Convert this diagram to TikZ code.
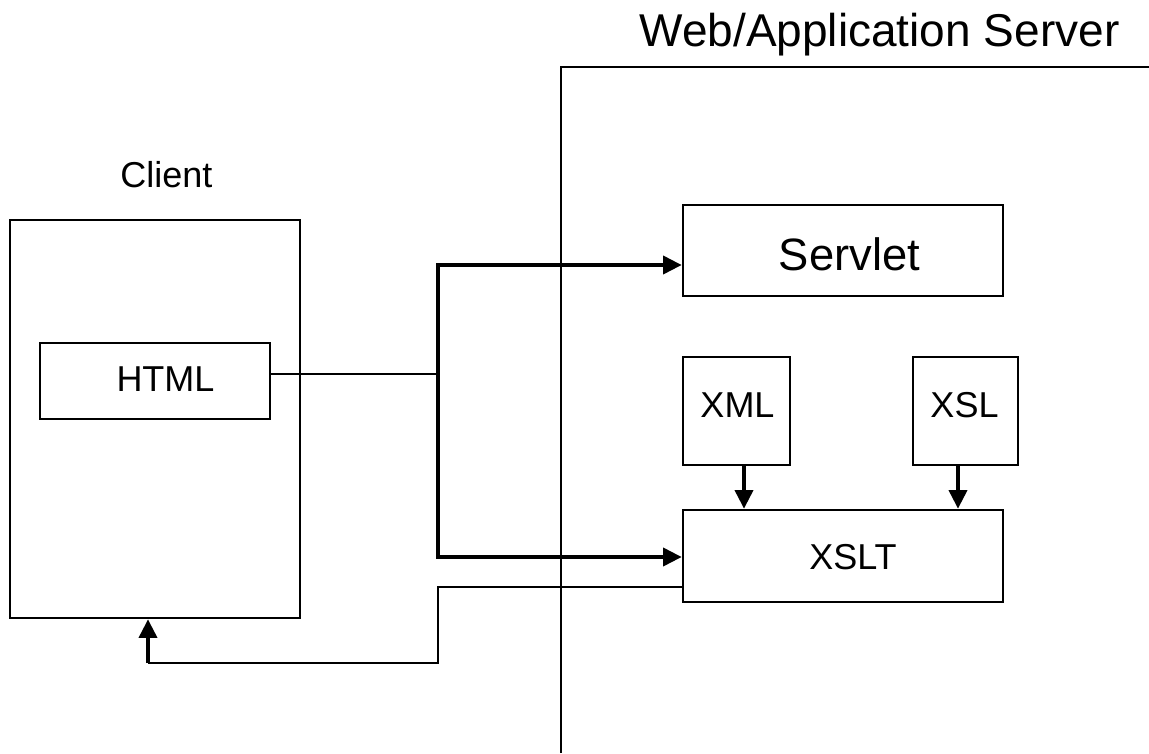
\documentclass[tikz,border=0pt]{standalone}
\usepackage{fontspec}
\setmainfont{Liberation Sans}
\usetikzlibrary{arrows.meta,fit}
\begin{document}
\begin{tikzpicture}[x=0.75pt,y=-0.75pt,
  box/.style={draw,line width=1.9pt,inner sep=0pt},
  lbl/.style={anchor=base,inner sep=0pt,font=\fontsize{27pt}{30pt}\selectfont},
  big/.style={anchor=base,inner sep=0pt,font=\fontsize{34pt}{38pt}\selectfont},
  conn/.style={line width=2.8pt,line join=miter},
  thin/.style={line width=1.9pt,line join=miter},
  tip/.style={-{Triangle[length=14pt,width=13.5pt]}}]
\useasboundingbox (0,0) rectangle (1149,753);
% server boundary
\coordinate (s1) at (561,753);
\coordinate (s2) at (561,67);
\coordinate (s3) at (1149,67);
\draw[line width=2.1pt,line join=miter] (s1) -- (s2) -- (s3);
\node[anchor=base,inner sep=0pt,font=\fontsize{34.5pt}{40pt}\selectfont] (title) at (879.5,46) {Web/Application Server};
% client
\node[lbl] (clientlbl) at (166.5,187) {Client};
\node[box,fit={(10,220)(300,618)}] (client) {};
\node[box,fit={(40,343)(270,419)}] (html) {};
\node[lbl] (htmltxt) at (165.5,391) {HTML};
% server boxes
\node[box,fit={(683,205)(1003,296)}] (servlet) {};
\node[big] (servlettxt) at (849.5,270) {Servlet};
\node[box,fit={(683,357)(790,465)}] (xml) {};
\node[lbl] (xmltxt) at (737.5,417) {XML};
\node[box,fit={(913,357)(1018,465)}] (xsl) {};
\node[lbl] (xsltxt) at (964.5,417) {XSL};
\node[box,fit={(683,510)(1003,602)}] (xslt) {};
\node[lbl] (xslttxt) at (853,569) {XSLT};
% connectors
\coordinate (j1) at (438,374);
\coordinate (jt) at (438,265);
\coordinate (jb) at (438,557);
\draw[thin] (html.east |- j1) -- (j1);
\draw[conn,tip] (jb) -- (jt) -- (servlet.west |- jt);
\draw[conn,tip] (jt) -- (jb) -- (xslt.west |- jb);
\coordinate (r1) at (438,587);
\coordinate (r2) at (438,663);
\coordinate (r3) at (148,663);
\draw[thin] (xslt.west |- r1) -- (r1) -- (r2) -- (r3);
\draw[conn,tip] (r3) -- (r3 |- client.south);
\coordinate (xa) at (744,0);
\coordinate (xb) at (958,0);
\draw[conn,tip] (xa |- xml.south) -- (xa |- xslt.north);
\draw[conn,tip] (xb |- xsl.south) -- (xb |- xslt.north);
\end{tikzpicture}
\end{document}
